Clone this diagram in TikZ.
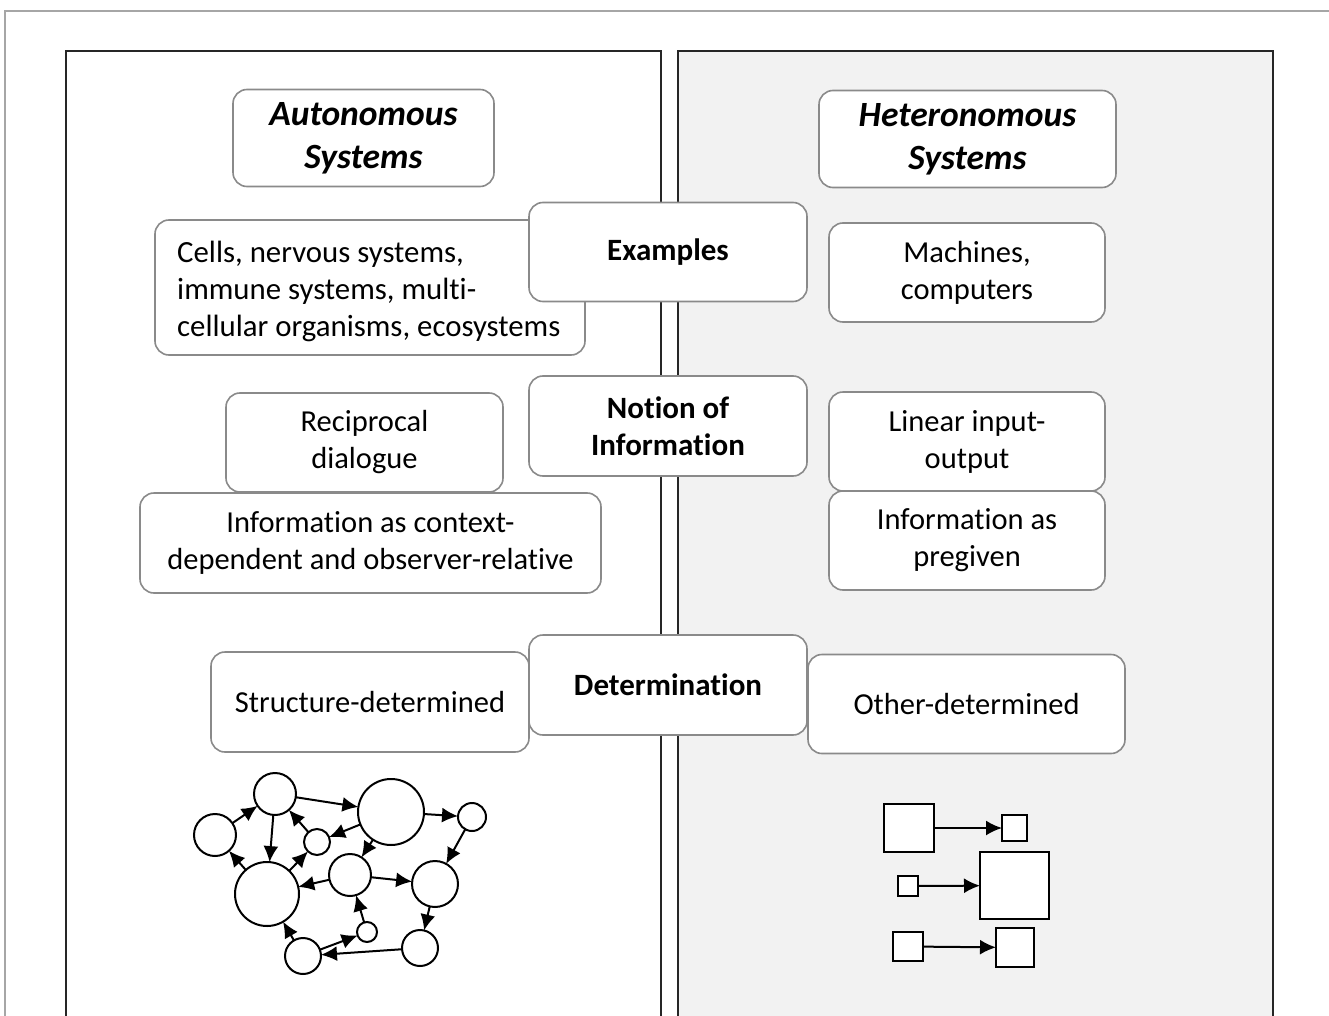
\documentclass[tikz,border=0pt]{standalone}
\usepackage{fontspec}
\setmainfont{Carlito}[Ligatures={NoCommon}]
\usetikzlibrary{arrows.meta}
\definecolor{panelgray}{HTML}{F2F2F2}
\definecolor{boxline}{HTML}{8A8A8A}
\begin{document}
\begin{tikzpicture}[x=1pt,y=-1pt,
  box/.style={draw=boxline, line width=1.6pt, fill=white, rounded corners=14pt,
     align=center, font=\fontsize{30.5}{37}\selectfont, inner sep=0pt},
  head/.style={box, font=\fontsize{35.5}{43}\selectfont\bfseries\itshape},
  mid/.style={box, font=\fontsize{31}{37}\selectfont\bfseries},
  plain/.style={align=left, font=\fontsize{30.8}{37}\selectfont, inner sep=0pt},
  circ/.style={circle, draw=black, line width=2pt, fill=white, inner sep=0pt, outer sep=0pt},
  sq/.style={rectangle, draw=black, line width=2pt, fill=white, inner sep=0pt, outer sep=0pt},
  arr/.style={line width=2pt, -{Latex[length=16pt,width=15pt]}}]
\useasboundingbox (0,0) rectangle (1329,1016);
\begin{scope}
\clip (0,0) rectangle (1329,1016);
\fill[white] (0,0) rectangle (1329,1016);
\draw[gray!70, line width=1.2pt] (1340,11) -- (5,11) -- (5,1030);
\draw[black!85, line width=2.2pt] (66,1030) -- (66,51) -- (661,51) -- (661,1030);
\draw[black!85, line width=2.2pt, fill=panelgray] (678,1030) -- (678,51) -- (1273,51) -- (1273,1030);
\end{scope}

% headings
\node[head, minimum width=261, minimum height=97] (auto) at (363.5,138) {Autonomous\\Systems};
\node[head, minimum width=297, minimum height=97] (hetero) at (967.5,139) {Heteronomous\\Systems};

% examples row
\node[box, minimum width=430, minimum height=135] (cells) at (370,287.5) {};
\node[plain, anchor=west] (cellstext) at (177,291) {Cells, nervous systems,\\immune systems, multi-\\cellular organisms, ecosystems};
\node[mid, minimum width=278, minimum height=99] (examples) at (668,252) {Examples};
\node[box, minimum width=276, minimum height=99] (machines) at (967,272.5) {Machines,\\computers};

% information row
\node[box, minimum width=461, minimum height=100] (context) at (370.5,543) {Information as context-\\dependent and observer-relative};
\node[box, minimum width=277, minimum height=99] (recip) at (364.5,442.5) {Reciprocal\\dialogue};
\node[mid, minimum width=278, minimum height=100] (notion) at (668,426) {Notion of\\Information};
\node[box, minimum width=276, minimum height=99] (linear) at (967,441.5) {Linear input-\\output};
\node[box, minimum width=276, minimum height=99] (pregiven) at (967,540.5) {Information as\\pregiven};

% determination row
\node[box, minimum width=318, minimum height=100] (struct) at (370,702) {Structure-determined};
\node[mid, minimum width=278, minimum height=100] (determ) at (668,685) {Determination};
\node[box, minimum width=317, minimum height=99] (other) at (966.5,704) {Other-determined};

% network
\node[circ, minimum size=42] (A) at (215,835) {};
\node[circ, minimum size=42] (B) at (275,794) {};
\node[circ, minimum size=66] (C) at (391,812) {};
\node[circ, minimum size=28] (D) at (472,817) {};
\node[circ, minimum size=26] (E) at (317,842) {};
\node[circ, minimum size=64] (F) at (267,894) {};
\node[circ, minimum size=42] (G) at (350,875) {};
\node[circ, minimum size=46] (H) at (435,884) {};
\node[circ, minimum size=20] (I) at (367,932) {};
\node[circ, minimum size=36] (J) at (303,956) {};
\node[circ, minimum size=36] (K) at (420,948) {};
\draw[arr] (A) -- (B);
\draw[arr] (B) -- (C);
\draw[arr] (B) -- (F);
\draw[arr] (E) -- (B);
\draw[arr] (C) -- (E);
\draw[arr] (C) -- (D);
\draw[arr] (C) -- (G);
\draw[arr] (D) -- (H);
\draw[arr] (F) -- (A);
\draw[arr] (F) -- (E);
\draw[arr] (G) -- (F);
\draw[arr] (G) -- (H);
\draw[arr] (I) -- (G);
\draw[arr] (J) -- (I);
\draw[arr] (J) -- (F);
\draw[arr] (K) -- (J);
\draw[arr] (H) -- (K);

% squares
\node[sq, minimum width=50, minimum height=48] (S1) at (909,828) {};
\node[sq, minimum width=25, minimum height=26] (S2) at (1014.5,828) {};
\node[sq, minimum width=20, minimum height=20] (S3) at (908,886) {};
\node[sq, minimum width=69, minimum height=67] (S4) at (1014.5,885.5) {};
\node[sq, minimum width=30, minimum height=29] (S5) at (908,946.5) {};
\node[sq, minimum width=38, minimum height=39] (S6) at (1015,947.5) {};
\draw[arr] (S1) -- (S2);
\draw[arr] (S3) -- (S4);
\draw[arr] (S5) -- (S6);
\end{tikzpicture}
\end{document}
